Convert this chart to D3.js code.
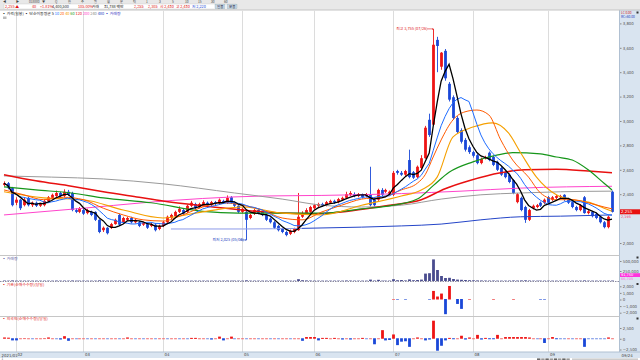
<!DOCTYPE html>
<html><head><meta charset="utf-8">
<script src="https://cdn.jsdelivr.net/npm/d3@7"></script>
<style>body{margin:0;background:#fff;}svg{display:block;font-family:"Noto Sans CJK KR","Noto Sans",sans-serif;}</style>
</head><body><svg id="c" width="640" height="360"></svg>
<script>
// ---------------- DATA ----------------
const opens = [
2475,2490,2450,2330,2355,2310,2370,2310,2330,2305,
2310,2345,2370,2385,2410,2385,2420,2410,2270,2255,
2270,2245,2255,2255,2190,2105,2125,2125,2155,2230,
2170,2190,2205,2170,2170,2150,2155,2140,2150,2115,
2140,2170,2205,2220,2255,2270,2255,2305,2320,2295,
2320,2330,2310,2335,2330,2345,2330,2375,2330,2305,
2255,2255,2205,2240,2270,2255,2230,2200,2170,2140,
2115,2090,2075,2090,2105,2215,2240,2255,2285,2305,
2320,2310,2330,2345,2335,2355,2370,2395,2400,2385,
2395,2385,2395,2355,2355,2435,2420,2400,2395,2590,
2575,2560,2680,2580,2540,2615,2695,3010,2970,3665,
3445,3575,3305,3195,3025,2925,2845,2785,2745,2720,
2655,2695,2740,2705,2665,2615,2580,2560,2515,2335,
2370,2295,2190,2285,2295,2330,2330,2375,2355,2370,
2375,2395,2360,2335,2295,2270,2375,2245,2255,2240,
2215,2170,2130,2420];
const highs = [
2505,2500,2460,2375,2360,2370,2380,2340,2340,2330,
2355,2385,2405,2430,2420,2440,2435,2420,2285,2295,
2280,2280,2265,2260,2195,2135,2130,2165,2200,2240,
2215,2215,2215,2200,2180,2175,2165,2165,2160,2150,
2180,2225,2240,2265,2300,2280,2315,2345,2330,2330,
2350,2340,2345,2345,2365,2355,2390,2385,2340,2310,
2290,2265,2240,2280,2280,2265,2240,2210,2180,2150,
2125,2100,2110,2125,2410,2260,2285,2305,2320,2330,
2330,2345,2355,2355,2370,2380,2420,2425,2415,2410,
2405,2410,2625,2365,2445,2450,2445,2430,2590,2600,
2590,2600,2765,2590,2635,2720,2960,3060,3755,3690,
3565,3590,3320,3210,3040,2940,2860,2800,2755,2730,
2700,2715,2750,2715,2675,2625,2590,2570,2525,2410,
2380,2305,2280,2315,2320,2340,2365,2385,2385,2395,
2395,2400,2370,2345,2305,2320,2385,2270,2265,2250,
2225,2180,2225,2430];
const lows = [
2465,2440,2300,2310,2270,2300,2300,2295,2295,2295,
2300,2335,2360,2375,2375,2375,2385,2260,2245,2245,
2230,2235,2220,2180,2080,2090,2070,2115,2150,2140,
2160,2180,2160,2160,2130,2140,2115,2130,2095,2105,
2130,2165,2195,2210,2245,2230,2245,2295,2275,2285,
2310,2300,2300,2310,2320,2320,2320,2320,2295,2245,
2245,2025,2195,2230,2235,2220,2180,2160,2115,2095,
2080,2055,2065,2080,2100,2205,2230,2245,2275,2295,
2295,2300,2320,2320,2325,2345,2360,2385,2375,2375,
2365,2375,2300,2300,2345,2385,2410,2390,2385,2560,
2550,2550,2530,2525,2530,2605,2690,2870,2960,3400,
3420,3330,3160,3010,2895,2815,2750,2730,2700,2645,
2645,2685,2670,2630,2590,2550,2530,2490,2400,2325,
2260,2165,2180,2275,2285,2295,2320,2320,2345,2360,
2365,2345,2320,2285,2260,2260,2240,2235,2210,2195,
2160,2120,2120,2250];
const closes = [
2490,2450,2310,2355,2285,2355,2310,2330,2305,2320,
2345,2375,2395,2410,2385,2420,2395,2270,2255,2285,
2240,2270,2230,2190,2090,2125,2080,2155,2190,2150,
2205,2205,2170,2190,2140,2165,2125,2155,2105,2140,
2170,2215,2230,2255,2280,2240,2305,2330,2285,2320,
2335,2310,2335,2320,2355,2330,2370,2330,2305,2255,
2280,2190,2230,2270,2245,2230,2190,2170,2125,2105,
2090,2065,2100,2115,2215,2245,2270,2295,2310,2320,
2305,2335,2345,2330,2360,2370,2400,2410,2385,2400,
2375,2400,2310,2310,2435,2395,2435,2420,2575,2575,
2560,2590,2540,2535,2625,2695,2945,2885,3625,3615,
3560,3350,3175,3025,2910,2830,2765,2745,2715,2655,
2690,2705,2680,2640,2600,2560,2540,2500,2410,2400,
2270,2190,2270,2305,2310,2305,2355,2330,2375,2385,
2385,2355,2330,2295,2270,2310,2245,2260,2220,2205,
2170,2130,2215,2255];
const volumes = [
12000,9000,15000,8000,10000,7000,9000,6000,8000,7000,
8000,10000,9000,12000,8000,11000,9000,14000,8000,7000,
8000,7000,6000,9000,16000,9000,10000,8000,9000,11000,
7000,6000,7000,6000,8000,6000,7000,6000,9000,7000,
8000,10000,9000,11000,12000,8000,10000,9000,7000,6000,
7000,6000,7000,6000,8000,7000,12000,10000,8000,9000,
7000,18000,9000,8000,7000,6000,8000,7000,9000,10000,
9000,12000,8000,9000,45000,20000,15000,12000,10000,9000,
8000,9000,8000,7000,9000,8000,14000,12000,8000,9000,
8000,9000,35000,12000,30000,10000,9000,10000,45000,20000,
25000,15000,40000,20000,25000,35000,185000,195000,540000,275000,
125000,75000,80000,50000,35000,30000,25000,20000,18000,15000,
14000,12000,11000,12000,10000,10000,9000,11000,14000,12000,
15000,18000,12000,8000,7000,6000,7000,8000,7000,6000,
6000,7000,6000,7000,8000,7000,15000,7000,6000,7000,
8000,9000,10000,12000];
// institutional net buying (only the days that show a bar)
const instDays   = [98,99,101,107,108,109,110,111,112,114,115,117,123,128,135,136];
const instValues = [30,-30,-20,-30,1300,450,900,-2300,2050,-750,-1500,30,30,30,-30,-30];
// foreign net buying
const foreignNet = [
300,250,-500,-500,100,150,100,-100,100,100,
150,300,100,-100,-300,600,-600,100,-100,100,
100,-100,100,-100,100,100,-100,100,100,-100,
100,300,100,-100,100,-100,100,100,-100,100,
100,-100,100,100,-100,100,-100,200,200,100,
100,-100,-300,100,500,-500,100,500,-100,100,
100,-100,100,100,-100,100,100,-100,100,-100,
100,100,-100,100,100,-600,400,400,400,-500,
200,200,100,200,100,-300,100,-300,100,100,
200,-100,100,-1400,100,2000,-500,-400,1000,-1600,
-800,-700,-2000,100,300,100,-500,-300,4200,-2900,
-1750,-500,200,-200,100,700,-300,300,100,900,
-300,200,-200,-200,900,100,400,400,400,400,
400,400,300,100,-100,100,-1100,100,400,-200,
-100,-100,100,-100,100,100,-2000,-100,-100,-100,
-100,-100,300,100];
// longer moving averages: [day index, price]
const ma20Pts = [[0,2435],[5,2395],[10,2355],[15,2375],[20,2355],[25,2285],[30,2230],[35,2190],[40,2180],[45,2230],[50,2295],[55,2330],[60,2310],[65,2270],[70,2205],[75,2190],[80,2255],[85,2310],[90,2360],[95,2375],[100,2435],[104,2490],[106,2560],[108,2705],[110,2845],[113,3010],[116,3075],[119,3090],[122,3050],[125,2845],[128,2680],[132,2540],[135,2410],[139,2355],[143,2355],[147,2330],[151,2295],[153,2280]];
const ma40Pts = [[0,2420],[10,2370],[20,2355],[30,2270],[40,2205],[50,2255],[60,2295],[70,2245],[80,2230],[90,2310],[100,2385],[105,2435],[109,2540],[113,2870],[118,2950],[123,2985],[127,2900],[130,2740],[134,2540],[139,2395],[143,2355],[147,2335],[151,2285],[153,2260]];
const ma60Pts = [[0,2460],[8,2435],[17,2410],[25,2370],[37,2330],[50,2260],[59,2245],[67,2245],[75,2245],[80,2245],[90,2280],[97,2305],[104,2360],[108,2470],[112,2580],[118,2665],[124,2720],[128,2740],[135,2730],[139,2705],[143,2680],[147,2600],[151,2490],[153,2435]];
const ma120Pts = [[0,2560],[8,2510],[17,2465],[25,2420],[34,2375],[40,2345],[50,2305],[60,2270],[70,2245],[78,2240],[85,2255],[92,2285],[97,2310],[105,2355],[111,2445],[117,2510],[125,2575],[131,2600],[139,2605],[147,2590],[153,2575]];
const ma240Pts = [[0,2550],[12,2540],[25,2525],[40,2485],[58,2410],[70,2360],[80,2310],[90,2295],[100,2310],[110,2360],[120,2395],[130,2410],[140,2420],[153,2425]];
const ma200Pts = [[0,2230],[20,2285],[35,2330],[50,2365],[65,2385],[80,2390],[100,2405],[115,2425],[130,2450],[153,2465]];
const ma480Pts = [[42,2115],[60,2115],[75,2120],[90,2130],[100,2140],[110,2155],[120,2190],[130,2215],[140,2220],[153,2230]];
const priceTicks = [2000,2400,2600,2800,3000,3200,3400,3600,3800];
const monthIdx = [3,20,40,60,78,98,118,137];
const monthLabels = ["02","03","04","05","06","07","08","09"];

// ---------------- CHART ----------------
const svg = d3.select("#c");
const N = closes.length;
const x = d3.scaleBand().domain(d3.range(N)).range([2,614]);
const cx = i => x(i) + x.bandwidth()/2;
const y = d3.scaleLinear().domain([2000,3800]).range([243,23.4]);
const yV = d3.scaleLinear().domain([0,500000]).range([281,261]);
const yI = d3.scaleLinear().domain([-2000,2000]).range([312.7,286.3]);
const yF = d3.scaleLinear().domain([-2500,2500]).range([349.5,328]);
const UP="#ee1414", DN="#1a48d8";

svg.append("rect").attr("width",640).attr("height",360).attr("fill","#fff");
// right axis panel
svg.append("rect").attr("x",619.5).attr("y",10).attr("width",20.5).attr("height",342).attr("fill","#d9e4f0");
svg.append("line").attr("x1",619.5).attr("x2",619.5).attr("y1",10).attr("y2",352).attr("stroke","#b0c0d2");
// header bar
svg.append("rect").attr("width",640).attr("height",10).attr("fill","#e8e8e8");
svg.append("line").attr("x1",0).attr("x2",640).attr("y1",10).attr("y2",10).attr("stroke","#c4c4c4");
const hdr1 = ["◀","▶","018880","▼","Q","한","주","일","월","분","틱","1","3","5","10","15","30","60"];
hdr1.forEach((t,k)=>{svg.append("text").attr("x",3+k*13).attr("y",3.2).attr("font-size",3.2).attr("fill","#444").text(t);});
svg.append("rect").attr("x",4).attr("y",4).attr("width",232).attr("height",5).attr("fill","#fff").attr("stroke","#c8c8c8").attr("stroke-width",0.4);
const hdr2 = [["2,255 ▲",5,"#e01010"],["40",32,"#e01010"],["+1.81%",40,"#e01010"],["4,400,500",52,"#222"],["105.00%",78,"#e01010"],["거래",92,"#222"],["31,788 백만",104,"#222"],["2,255",134,"#e01010"],["2,305",148,"#e01010"],["시 2,430",160,"#e01010"],["고 2,430",176,"#e01010"],["저 2,220",192,"#1a48d8"]];
hdr2.forEach(d=>{svg.append("text").attr("x",d[1]).attr("y",8).attr("font-size",3.8).attr("fill",d[2]).text(d[0]);});
[["일봉",215],["분봉",227]].forEach(d=>{svg.append("rect").attr("x",d[1]).attr("y",4.2).attr("width",10).attr("height",4.6).attr("fill","#c9d6e6").attr("stroke","#8aa").attr("stroke-width",0.3);svg.append("text").attr("x",d[1]+2).attr("y",8).attr("font-size",3.5).attr("fill","#223").text(d[0]);});

// vertical month grid
svg.append("g").selectAll("line").data(monthIdx).join("line")
  .attr("x1",d=>Math.round(cx(d))+0.5).attr("x2",d=>Math.round(cx(d))+0.5)
  .attr("y1",10.5).attr("y2",352).attr("stroke","#dcdcdc");
// panel separators
[255.5,316.5].forEach(v=>svg.append("line").attr("x1",0).attr("x2",619.5).attr("y1",v).attr("y2",v).attr("stroke","#c6c6c6"));
svg.append("line").attr("x1",0).attr("x2",619.5).attr("y1",281.5).attr("y2",281.5).attr("stroke","#8a8aa0").attr("stroke-dasharray","1.5,1");
// x-axis band
svg.append("rect").attr("x",0).attr("y",352).attr("width",640).attr("height",6).attr("fill","#d9e4f0");
svg.append("line").attr("x1",0).attr("x2",640).attr("y1",352).attr("y2",352).attr("stroke","#b0c0d2");

// legend
const leg = svg.append("text").attr("x",2).attr("y",14.6).attr("font-size",3.9);
[["▪ 가격(일봉) ","#222"],["▪ 단순이동평균 ","#222"],["5 ","#111"],["10 ","#1e6cff"],["20 ","#ff5a00"],["40 ","#f5a000"],["60 ","#1a9a1a"],["120 ","#e81010"],["200 ","#ff44cc"],["240 ","#888"],["480 ","#2040c0"],["▪ 거래량","#3030c0"]]
  .forEach(d=>leg.append("tspan").attr("fill",d[1]).text(d[0]));
svg.append("rect").attr("x",3).attr("y",16.5).attr("width",3.5).attr("height",2.5).attr("fill","#bbb");

// axes helper
function styleAxis(g,color){
  g.select(".domain").remove();
  g.attr("font-size",3.9).attr("font-family","DejaVu Sans, sans-serif");
  g.selectAll("text").attr("fill",color);
  g.selectAll("line").attr("stroke","#888");
}
svg.append("g").attr("transform","translate(620,0)")
  .call(d3.axisRight(y).tickValues(priceTicks).tickSize(1.5).tickPadding(1.2).tickFormat(d3.format(",")))
  .call(g=>styleAxis(g,"#555"));
svg.append("g").attr("transform","translate(620,0)")
  .call(d3.axisRight(yV).tickValues([250000,500000]).tickSize(1.5).tickPadding(1.2).tickFormat(d3.format(",")))
  .call(g=>styleAxis(g,"#555"));
svg.append("g").attr("transform","translate(620,0)")
  .call(d3.axisRight(yI).tickValues([-2000,-1000,0,1000,2000]).tickSize(1.5).tickPadding(1.2).tickFormat(d3.format(",")))
  .call(g=>styleAxis(g,"#555"));
svg.append("g").attr("transform","translate(620,0)")
  .call(d3.axisRight(yF).tickValues([-2500,0,2500]).tickSize(1.5).tickPadding(1.2).tickFormat(d3.format(",")))
  .call(g=>styleAxis(g,"#555"));
svg.append("g").attr("transform","translate(0,352)")
  .call(d3.axisBottom(x).tickValues(monthIdx).tickSize(0).tickPadding(0.9).tickFormat((d,k)=>monthLabels[k]))
  .call(g=>{styleAxis(g,"#444");g.selectAll("text").attr("text-anchor","start").attr("dx",1.5);});
svg.append("text").attr("x",1.5).attr("y",356.6).attr("font-size",3.9).attr("fill","#444").attr("font-family","DejaVu Sans, sans-serif").text("2021/01");
svg.append("text").attr("x",621.5).attr("y",356.6).attr("font-size",3.9).attr("fill","#444").attr("font-family","DejaVu Sans, sans-serif").text("09/24");
svg.append("text").attr("x",1.5).attr("y",360).attr("font-size",3).attr("fill","#666").text("1");
// tiny navigator at bottom right
d3.range(8).forEach(k=>svg.append("rect").attr("x",537+k*4.2).attr("y",358.4).attr("width",3.4).attr("height",1.6).attr("fill",k%2?"#999":"#666"));
svg.append("rect").attr("x",572).attr("y",358.4).attr("width",66).attr("height",1.6).attr("fill","#ccc");

// right panel header
svg.append("text").attr("x",621).attr("y",13.6).attr("font-size",3.2).attr("fill","#d02020").text("LC 0.00");
svg.append("text").attr("x",621).attr("y",17.8).attr("font-size",3.2).attr("fill","#2040c0").text("RC=60.00");

// ---- moving average lines ----
const lineP = d3.line().x(d=>cx(d[0])).y(d=>y(d[1])).curve(d3.curveMonotoneX);
function sma(arr,n){return arr.map((_,i)=>d3.mean(arr.slice(Math.max(0,i-n+1),i+1)));}
const ma5 = sma(closes,5), ma10 = sma(closes,10);
const lineI = d3.line().x((d,i)=>cx(i)).y(d=>y(d));
const gL = svg.append("g").attr("fill","none");
gL.append("path").attr("d",lineP(ma480Pts.filter(d=>d[0]<=76))).attr("stroke","#8c9ae8").attr("stroke-width",1);
gL.append("path").attr("d",lineP(ma480Pts.filter(d=>d[0]>=75))).attr("stroke","#2445c8").attr("stroke-width",1);
gL.append("path").attr("d",lineP(ma200Pts)).attr("stroke","#ff44cc").attr("stroke-width",1);
gL.append("path").attr("d",lineP(ma240Pts)).attr("stroke","#9a9a9a").attr("stroke-width",1);

// ---- candles ----
const gC = svg.append("g");
const cdl = gC.selectAll("g").data(d3.range(N)).join("g");
const col = i => closes[i]>=opens[i]?UP:DN;
cdl.append("line").attr("x1",i=>Math.round(cx(i))+0.5).attr("x2",i=>Math.round(cx(i))+0.5)
  .attr("y1",i=>y(highs[i])).attr("y2",i=>y(lows[i])).attr("stroke",col).attr("stroke-width",0.9);
cdl.append("rect").attr("x",i=>Math.round(cx(i))+0.5-1.4).attr("width",2.8)
  .attr("y",i=>y(Math.max(opens[i],closes[i])))
  .attr("height",i=>Math.max(0.9,Math.abs(y(opens[i])-y(closes[i])))).attr("fill",col);

gL.raise();
const gL2 = svg.append("g").attr("fill","none");
gL2.append("path").attr("d",lineP(ma120Pts)).attr("stroke","#e81010").attr("stroke-width",1.5);
gL2.append("path").attr("d",lineP(ma60Pts)).attr("stroke","#16961a").attr("stroke-width",1.2);
gL2.append("path").attr("d",lineP(ma40Pts)).attr("stroke","#f5a000").attr("stroke-width",1.1);
gL2.append("path").attr("d",lineP(ma20Pts)).attr("stroke","#ff5a00").attr("stroke-width",1);
gL2.append("path").attr("d",lineI(ma10)).attr("stroke","#1e6cff").attr("stroke-width",1);
gL2.append("path").attr("d",lineI(ma5)).attr("stroke","#000").attr("stroke-width",1.3);

// ---- annotations ----
const hiI = d3.maxIndex(highs), loI = d3.minIndex(lows);
svg.append("text").attr("x",cx(hiI)-37).attr("y",y(highs[hiI])+1.3).attr("font-size",3.9).attr("fill","#e02020")
  .text("최고 "+d3.format(",")(highs[hiI])+" (07/26)");
svg.append("line").attr("x1",cx(hiI)-6).attr("x2",cx(hiI)-1).attr("y1",y(highs[hiI])).attr("y2",y(highs[hiI])).attr("stroke","#e02020").attr("stroke-width",0.6);
svg.append("path").attr("d",`M${cx(hiI)-1},${y(highs[hiI])-1}L${cx(hiI)+0.5},${y(highs[hiI])}L${cx(hiI)-1},${y(highs[hiI])+1}Z`).attr("fill","#e02020");
svg.append("text").attr("x",cx(loI)-34).attr("y",y(lows[loI])+1.3).attr("font-size",3.9).attr("fill","#2040c0")
  .text("최저 "+d3.format(",")(lows[loI])+" (05/04)");
svg.append("line").attr("x1",cx(loI)-6).attr("x2",cx(loI)-1).attr("y1",y(lows[loI])).attr("y2",y(lows[loI])).attr("stroke","#2040c0").attr("stroke-width",0.6);
svg.append("path").attr("d",`M${cx(loI)-1},${y(lows[loI])-1}L${cx(loI)+0.5},${y(lows[loI])}L${cx(loI)-1},${y(lows[loI])+1}Z`).attr("fill","#2040c0");

// current price box
const last = closes[N-1];
svg.append("rect").attr("x",620).attr("y",y(last)-2.6).attr("width",20).attr("height",5).attr("fill","#e81010");
svg.append("text").attr("x",621).attr("y",y(last)+1.5).attr("font-size",3.9).attr("fill","#fff").attr("font-family","DejaVu Sans, sans-serif").text(d3.format(",")(last));
svg.append("text").attr("x",621).attr("y",y(last)+6.2).attr("font-size",3.5).attr("fill","#ff3a6a").attr("font-family","DejaVu Sans, sans-serif").text(d3.format(",")(Math.round(ma5[N-1])));

// ---- volume panel ----
svg.append("text").attr("x",2).attr("y",260).attr("font-size",3.9).attr("fill","#5a5aa0").text("▪ 거래량");
svg.append("g").selectAll("rect").data(d3.range(N)).join("rect")
  .attr("x",i=>Math.round(cx(i))+0.5-1.4).attr("width",2.8)
  .attr("y",i=>Math.min(yV(volumes[i]),280.6)).attr("height",i=>Math.max(0.4,281-yV(volumes[i])))
  .attr("fill","#4a4c8e");
svg.append("rect").attr("x",620).attr("y",273.2).attr("width",20).attr("height",3.8).attr("fill","#ff33dd");
svg.append("text").attr("x",621).attr("y",276.3).attr("font-size",3.5).attr("fill","#fff").attr("font-family","DejaVu Sans, sans-serif").text("91,750");
svg.append("text").attr("x",621).attr("y",280.3).attr("font-size",3.5).attr("fill","#ff66dd").attr("font-family","DejaVu Sans, sans-serif").text("66,705");

// ---- institutional panel ----
svg.append("text").attr("x",2).attr("y",286).attr("font-size",3.9).attr("fill","#e02020").text("▪ 기관(순매수수량)(당일)");
svg.append("g").selectAll("rect").data(d3.range(instDays.length)).join("rect")
  .attr("x",k=>Math.round(cx(instDays[k]))+0.5-1.4).attr("width",2.8)
  .attr("y",k=>Math.min(yI(instValues[k]),yI(0)-0.5))
  .attr("height",k=>Math.max(1,Math.abs(yI(instValues[k])-yI(0))))
  .attr("fill",k=>Math.abs(instValues[k])<100?(instValues[k]>0?"#f27a7a":"#7b95e6"):(instValues[k]>0?UP:DN));

// ---- foreign panel ----
svg.append("text").attr("x",2).attr("y",320).attr("font-size",3.9).attr("fill","#e02020").text("▪ 외국인(순매수수량)(당일)");
svg.append("g").selectAll("rect").data(d3.range(N)).join("rect")
  .attr("x",i=>Math.round(cx(i))+0.5-1.4).attr("width",2.8)
  .attr("y",i=>Math.min(yF(foreignNet[i]),yF(0)-0.5))
  .attr("height",i=>Math.max(1,Math.abs(yF(foreignNet[i])-yF(0))))
  .attr("fill",i=>Math.abs(foreignNet[i])<=150?(foreignNet[i]>0?"#f26a6a":"#6f8de4"):(foreignNet[i]>0?UP:DN));

// panel corner markers
[11.5,256.5,283,317.5].forEach(v=>svg.append("rect").attr("x",636.5).attr("y",v).attr("width",2).attr("height",2).attr("fill","#333"));
</script></body></html>
